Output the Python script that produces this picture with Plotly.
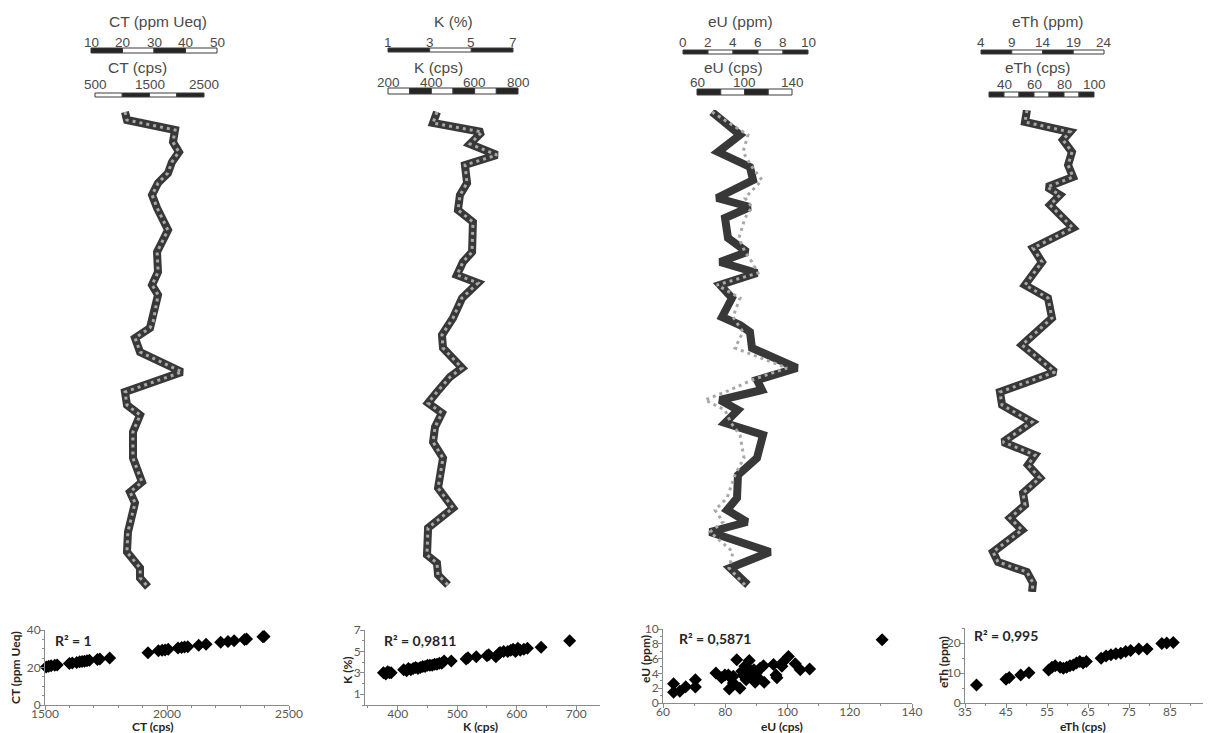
import plotly.graph_objects as go

# The page body keeps an 8 px margin, so the figure is sized to fill the rest of the window.
OFF = 8
W, H = 1211 - OFF, 733 - OFF

# ---------------- data: vertical profiles (depth in m, top = 0) ----------------
ct_depth = [0.2, 1.0, 2.0, 3.2, 4.2, 5.2, 6.3, 7.3, 8.5, 9.8, 12.0, 13.5, 14.2, 16.2, 17.5, 18.5, 21.2,
            21.8, 22.8, 24.2, 26.2, 28.2, 29.5, 30.5, 32.2, 34.8, 37.2, 38.2, 39.3, 42.2, 44.2, 45.8, 46.8, 47.7]
ct_cps = [1050, 1087, 1968, 1931, 2041, 1913, 1840, 1656, 1546, 1638, 1840, 1693, 1638, 1656, 1546, 1656, 1564,
          1509, 1234, 1326, 2096, 1050, 1087, 1326, 1197, 1197, 1362, 1142, 1234, 1105, 1087, 1326, 1326, 1473]
ct_ppm = [20.8, 21.4, 36.7, 36.0, 37.9, 35.7, 34.4, 31.3, 29.4, 31.0, 34.4, 31.9, 31.0, 31.3, 29.4, 31.3, 29.7,
          28.7, 24.0, 25.6, 38.9, 20.8, 21.4, 25.6, 23.3, 23.3, 26.2, 22.4, 24.0, 21.7, 21.4, 25.6, 25.6, 28.1]

k_depth = [0.2, 1.3, 2.2, 3.4, 4.5, 5.5, 7.3, 8.5, 10.0, 11.2, 14.2, 15.2, 16.5, 17.3, 18.8, 20.8, 22.5,
           23.8, 25.8, 26.7, 28.2, 29.3, 30.3, 31.7, 33.2, 34.8, 37.8, 39.8, 41.8, 44.5, 45.3, 46.5, 47.5]
k_cps = [426, 408, 634, 578, 703, 555, 565, 532, 523, 592, 588, 546, 518, 615, 542, 500, 449,
         454, 542, 486, 426, 385, 449, 417, 408, 454, 431, 500, 385, 380, 426, 431, 477]
k_pct = [3.35, 3.16, 5.51, 4.94, 6.23, 4.70, 4.79, 4.46, 4.36, 5.08, 5.03, 4.60, 4.31, 5.32, 4.55, 4.12, 3.59,
         3.64, 4.55, 3.98, 3.35, 2.92, 3.59, 3.26, 3.16, 3.64, 3.40, 4.12, 2.92, 2.87, 3.35, 3.40, 3.88]

eu_depth = [0.2, 2.5, 4.2, 5.7, 7.0, 8.8, 9.7, 10.8, 12.8, 14.2, 15.2, 16.3, 17.5, 18.8, 20.7, 21.5, 22.2,
            23.8, 25.8, 27.0, 28.0, 29.0, 30.0, 31.3, 32.5, 34.8, 36.5, 38.8, 40.0, 41.2, 42.2, 44.2, 45.8, 47.5]
eu_cps = [72.6, 96.2, 77.7, 104.6, 107.2, 76.8, 104.6, 83.6, 86.1, 102.1, 79.4, 110.5, 79.4, 89.5, 81.1, 96.2, 104.6,
          106.3, 144.2, 110.5, 114.7, 79.4, 94.5, 83.6, 115.6, 110.5, 94.5, 93.7, 85.3, 102.1, 70.9, 121.5, 87.8, 102.9]
eu_ppm = [2.32, 5.2, 4.8, 5.52, 6.32, 4.96, 5.52, 4.96, 4.48, 4.96, 5.52, 6.0, 2.72, 4.56, 4.0, 4.4, 4.8,
          4.16, 8.32, 5.52, 3.76, 1.76, 3.36, 3.84, 4.56, 4.88, 4.16, 3.52, 2.56, 3.2, 2.16, 4.0, 3.68, 4.96]

eth_depth = [0.0, 1.2, 2.2, 3.0, 4.2, 5.5, 6.7, 7.7, 8.5, 9.5, 11.8, 13.8, 15.2, 17.5, 18.8, 20.8, 23.5,
             26.2, 28.2, 29.5, 31.2, 33.2, 34.5, 35.5, 36.8, 38.3, 39.5, 40.8, 42.0, 44.2, 45.2, 46.2, 47.3, 48.2]
eth_cps = [55.3, 54.0, 84.0, 79.3, 85.3, 82.7, 86.0, 68.7, 77.3, 70.7, 86.0, 59.3, 65.3, 54.0, 69.3, 72.0, 52.0,
           74.0, 37.3, 38.7, 58.7, 39.3, 60.7, 56.0, 64.0, 52.7, 54.0, 44.0, 52.0, 32.7, 36.0, 55.3, 59.3, 58.7]
eth_ppm = [11.48, 11.15, 18.47, 17.33, 18.8, 18.15, 18.96, 14.73, 16.85, 15.22, 18.96, 12.46, 13.92, 11.15, 14.89,
           15.54, 10.67, 16.03, 7.09, 7.41, 12.29, 7.58, 12.78, 11.64, 13.59, 10.83, 11.15, 8.72, 10.67, 5.95, 6.76,
           11.48, 12.46, 12.29]

# ---------------- data: cross-plots (cps vs concentration) ----------------
ct_sc_cps = [1505, 1515, 1525, 1540, 1550, 1600, 1612, 1630, 1642, 1652, 1662, 1672, 1682, 1715, 1725, 1765,
             1922, 1965, 1980, 1992, 2005, 2045, 2060, 2072, 2085, 2130, 2160, 2220, 2250, 2275, 2318, 2326, 2393, 2398]
ct_sc_ppm = [20.3, 20.6, 20.9, 21.2, 21.4, 22.2, 22.4, 22.7, 23.0, 23.2, 23.4, 23.6, 23.8, 24.3, 24.5, 25.1,
             27.9, 28.9, 29.2, 29.4, 29.7, 30.4, 30.7, 30.9, 31.1, 31.9, 32.4, 33.5, 33.9, 34.3, 35.0, 35.2, 36.4, 36.6]

k_sc_cps = [376, 380, 383, 386, 389, 410, 415, 418, 422, 426, 430, 434, 438, 442, 446, 450, 454, 458, 462, 466,
            470, 474, 478, 490, 515, 518, 532, 550, 553, 565, 570, 572, 578, 585, 590, 594, 598, 602, 606, 612,
            618, 641, 689]
k_sc_pct = [3.0, 2.9, 3.1, 3.0, 3.0, 3.3, 3.2, 3.4, 3.3, 3.4, 3.5, 3.4, 3.5, 3.6, 3.6, 3.7, 3.7, 3.7, 3.8, 3.8,
            3.9, 3.9, 4.1, 4.1, 4.3, 4.4, 4.5, 4.6, 4.7, 4.5, 4.8, 4.9, 5.0, 5.0, 5.1, 5.2, 5.0, 5.3, 5.1, 5.2,
            5.3, 5.4, 6.0]

eu_sc_cps = [63.4, 63.4, 65.4, 67.3, 70.4, 70.4, 77.0, 78.8, 79.9, 81.0, 81.3, 81.7, 82.6, 82.6, 83.7, 84.7,
             85.3, 85.8, 86.3, 86.7, 87.4, 87.7, 88.2, 88.8, 89.2, 89.6, 90.1, 90.3, 91.2, 92.3, 92.5, 95.5,
             96.3, 96.6, 98.2, 98.5, 100.3, 102.5, 104.1, 107.1, 130.4]
eu_sc_ppm = [2.6, 1.45, 1.6, 2.2, 3.15, 2.15, 4.05, 3.4, 3.8, 3.8, 1.9, 3.4, 3.6, 2.7, 5.85, 2.0,
             4.3, 3.7, 4.95, 3.15, 4.7, 5.75, 4.05, 3.7, 4.5, 2.8, 4.1, 3.5, 4.7, 5.05, 2.8, 5.2,
             3.8, 3.4, 4.95, 5.5, 6.3, 5.3, 4.5, 4.6, 8.55]

eth_sc_cps = [37.8, 45.0, 45.8, 48.6, 50.6, 55.4, 56.2, 57.0, 58.2, 59.0, 59.8, 60.6, 61.4, 62.2, 63.0, 63.8,
              64.6, 68.2, 69.4, 70.6, 71.8, 73.0, 74.2, 75.4, 77.4, 79.4, 83.0, 84.2, 85.8]
eth_sc_ppm = [6.0, 7.9, 8.5, 9.3, 10.1, 11.0, 11.9, 12.4, 11.9, 11.6, 11.9, 12.4, 12.7, 13.3, 13.8, 13.3,
              13.8, 14.9, 15.7, 16.1, 16.4, 16.6, 17.2, 17.5, 18.0, 18.0, 19.8, 20.0, 20.2]

r2_labels = ["R² = 1", "R² = 0,9811", "R² = 0,5871", "R² = 0,995"]

# ---------------- layout helpers (positions given in window pixels) ----------------
def pxx(p):
    return (p - OFF) / W

def pxy(p):
    return 1 - (p - OFF) / H

def axis_range(v0, p0, v1, p1, L, R):
    s = (v1 - v0) / (p1 - p0)
    return [v0 + (L - p0) * s, v0 + (R - p0) * s]

def aname(prefix, n):
    return prefix + ("axis" if n == 1 else f"axis{n}")

def aref(prefix, n):
    return prefix if n == 1 else f"{prefix}{n}"

TXT = "#4a4a4a"
DARK = "#383838"
DOT = "#a8a8a8"

cols = [
    dict(depth=ct_depth, cps=ct_cps, ppm=ct_ppm, span=(50, 300),
         ppm_bar=dict(v=(10, 50), px=(91, 217), y=(48, 53), step=10, first=0,
                      ticks=[10, 20, 30, 40, 50], ty=42, title="CT (ppm Ueq)", tx=158),
         cps_bar=dict(v=(500, 2500), px=(95, 204), y=(93, 97), step=500, first=1,
                      ticks=[500, 1500, 2500], ty=85, title="CT (cps)", tx=137),
         sc=dict(x=ct_sc_cps, y=ct_sc_ppm, xdom=(45, 289), xr=[1500, 2500], ydom=(630, 705), yr=[0, 40],
                 xdt=500, xt0=1500, xmin=100, ydt=20, yt0=0, ymin=5,
                 ytitle="CT (ppm Ueq)", ytp=(15, 668), xtitle="CT (cps)", xtp=(153, 726), r2p=(53, 640))),
    dict(depth=k_depth, cps=k_cps, ppm=k_pct, span=(350, 560),
         ppm_bar=dict(v=(1, 7), px=(388, 513), y=(48, 52), step=2, first=0,
                      ticks=[1, 3, 5, 7], ty=42, title="K (%)", tx=453),
         cps_bar=dict(v=(200, 800), px=(388, 518), y=(88, 94), step=100, first=1,
                      ticks=[200, 400, 600, 800], ty=82, title="K (cps)", tx=438),
         sc=dict(x=k_sc_cps, y=k_sc_pct, xdom=(365, 600), xr=[345, 740], ydom=(630, 705), yr=[0, 7],
                 xdt=100, xt0=400, xmin=50, ydt=2, yt0=1, ymin=1,
                 ytitle="K (%)", ytp=(347, 670), xtitle="K (cps)", xtp=(480, 726), r2p=(382, 640))),
    dict(depth=eu_depth, cps=eu_cps, ppm=eu_ppm, span=(650, 850),
         ppm_bar=dict(v=(0, 10), px=(683, 808), y=(50, 54), step=2, first=0,
                      ticks=[0, 2, 4, 6, 8, 10], ty=42, title="eU (ppm)", tx=740),
         cps_bar=dict(v=(60, 140), px=(697, 792), y=(89, 95), step=20, first=0,
                      ticks=[60, 100, 140], ty=82, title="eU (cps)", tx=733),
         sc=dict(x=eu_sc_cps, y=eu_sc_ppm, xdom=(663, 912), xr=[60, 140], ydom=(629, 703), yr=[0, 10],
                 xdt=20, xt0=60, xmin=10, ydt=2, yt0=0, ymin=1,
                 ytitle="eU (ppm)", ytp=(645, 659), xtitle="eU (cps)", xtp=(782, 726), r2p=(677, 638))),
    dict(depth=eth_depth, cps=eth_cps, ppm=eth_ppm, span=(940, 1150),
         ppm_bar=dict(v=(4, 24), px=(981, 1104), y=(50, 54), step=5, first=0,
                      ticks=[4, 9, 14, 19, 24], ty=42, title="eTh (ppm)", tx=1048),
         cps_bar=dict(v=(30, 100), px=(989, 1094), y=(92, 97), step=10, first=0,
                      ticks=[40, 60, 80, 100], ty=85, title="eTh (cps)", tx=1037),
         sc=dict(x=eth_sc_cps, y=eth_sc_ppm, xdom=(965, 1211), xr=[35, 95], ydom=(628, 703), yr=[0, 25],
                 xdt=10, xt0=35, xmin=5, ydt=10, yt0=0, ymin=5,
                 ytitle="eTh (ppm)", ytp=(943, 662), xtitle="eTh (cps)", xtp=(1083, 726), r2p=(972, 635))),
]

fig = go.Figure()
layout = {}
shapes = []
annotations = []

for i, c in enumerate(cols):
    xa, xb, xs = 3 * i + 1, 3 * i + 2, 3 * i + 3
    ya, ys = 2 * i + 1, 2 * i + 2
    L, R = c["span"]
    pb, cb = c["ppm_bar"], c["cps_bar"]

    layout[aname("x", xa)] = dict(domain=[pxx(L), pxx(R)], anchor=aref("y", ya), visible=False, automargin=False,
                                  range=axis_range(cb["v"][0], cb["px"][0], cb["v"][1], cb["px"][1], L, R))
    layout[aname("x", xb)] = dict(domain=[pxx(L), pxx(R)], anchor=aref("y", ya), visible=False, automargin=False,
                                  overlaying=aref("x", xa),
                                  range=axis_range(pb["v"][0], pb["px"][0], pb["v"][1], pb["px"][1], L, R))
    layout[aname("y", ya)] = dict(domain=[pxy(592), pxy(110)], anchor=aref("x", xa), visible=False,
                                  automargin=False, range=[48.2, 0])

    # profile lines
    fig.add_trace(go.Scatter(x=c["cps"], y=c["depth"], xaxis=aref("x", xa), yaxis=aref("y", ya),
                             mode="lines", line=dict(color=DARK, width=8), hoverinfo="skip"))
    fig.add_trace(go.Scatter(x=c["ppm"], y=c["depth"], xaxis=aref("x", xb), yaxis=aref("y", ya),
                             mode="lines", line=dict(color=DOT, width=3, dash="3px,4px"), hoverinfo="skip"))

    # scale bars
    for bar, axn in ((pb, xb), (cb, xa)):
        v0, v1 = bar["v"]
        k = 0
        v = v0
        while v < v1 - 1e-9:
            black = ((k + bar["first"]) % 2 == 0)
            shapes.append(dict(type="rect", xref=aref("x", axn), yref="paper",
                               x0=v, x1=min(v + bar["step"], v1),
                               y0=pxy(bar["y"][1]), y1=pxy(bar["y"][0]),
                               fillcolor="#262626" if black else "white",
                               line=dict(color="#3a3a3a", width=1), layer="above"))
            v += bar["step"]
            k += 1
        for t in bar["ticks"]:
            annotations.append(dict(x=t, y=pxy(bar["ty"]), xref=aref("x", axn), yref="paper",
                                    text=str(t), showarrow=False, xanchor="center", yanchor="middle",
                                    font=dict(family="Liberation Sans", size=13.5, color=TXT)))
        title_y = 22 if bar is pb else 68
        annotations.append(dict(x=pxx(bar["tx"]), y=pxy(title_y), xref="paper", yref="paper",
                                text=bar["title"], showarrow=False, xanchor="center", yanchor="middle",
                                font=dict(family="Liberation Sans", size=15.5, color=TXT)))

    # cross-plot
    s = c["sc"]
    axis_common = dict(showline=True, linecolor="#8a8a8a", linewidth=1, ticks="outside", ticklen=4,
                       tickcolor="#8a8a8a", showgrid=False, zeroline=False, automargin=False,
                       tickfont=dict(family="Lato", size=12, color="#595959"))
    layout[aname("x", xs)] = dict(domain=[pxx(s["xdom"][0]), min(1.0, pxx(s["xdom"][1]))], anchor=aref("y", ys),
                                  range=s["xr"], tick0=s["xt0"], dtick=s["xdt"], ticklabelstandoff=-6,
                                  minor=dict(ticks="outside", ticklen=2, dtick=s["xmin"], tickcolor="#8a8a8a"),
                                  **axis_common)
    layout[aname("y", ys)] = dict(domain=[pxy(s["ydom"][1]), pxy(s["ydom"][0])], anchor=aref("x", xs),
                                  range=s["yr"], tick0=s["yt0"], dtick=s["ydt"], ticklabelstandoff=-3,
                                  minor=dict(ticks="outside", ticklen=2, dtick=s["ymin"], tickcolor="#8a8a8a"),
                                  **axis_common)
    fig.add_trace(go.Scatter(x=s["x"], y=s["y"], xaxis=aref("x", xs), yaxis=aref("y", ys),
                             mode="markers", marker=dict(symbol="diamond", size=10, color="black"),
                             cliponaxis=False, hoverinfo="skip"))
    annotations.append(dict(x=pxx(s["ytp"][0]), y=pxy(s["ytp"][1]), xref="paper", yref="paper",
                            text="<b>" + s["ytitle"] + "</b>", textangle=-90, showarrow=False,
                            xanchor="center", yanchor="middle",
                            font=dict(family="Lato", size=12, color="#262626")))
    annotations.append(dict(x=pxx(s["xtp"][0]), y=pxy(s["xtp"][1]), xref="paper", yref="paper",
                            text="<b>" + s["xtitle"] + "</b>", showarrow=False,
                            xanchor="center", yanchor="middle",
                            font=dict(family="Lato", size=12, color="#262626")))
    annotations.append(dict(x=pxx(s["r2p"][0]), y=pxy(s["r2p"][1]), xref="paper", yref="paper",
                            text="<b>" + r2_labels[i] + "</b>", showarrow=False,
                            xanchor="left", yanchor="middle",
                            font=dict(family="Lato", size=14, color="#262626")))

fig.update_layout(width=W, height=H, margin=dict(l=0, r=0, t=0, b=0, autoexpand=False),
                  paper_bgcolor="white", plot_bgcolor="white", showlegend=False,
                  shapes=shapes, annotations=annotations, **layout)

fig.write_html("out.html")
